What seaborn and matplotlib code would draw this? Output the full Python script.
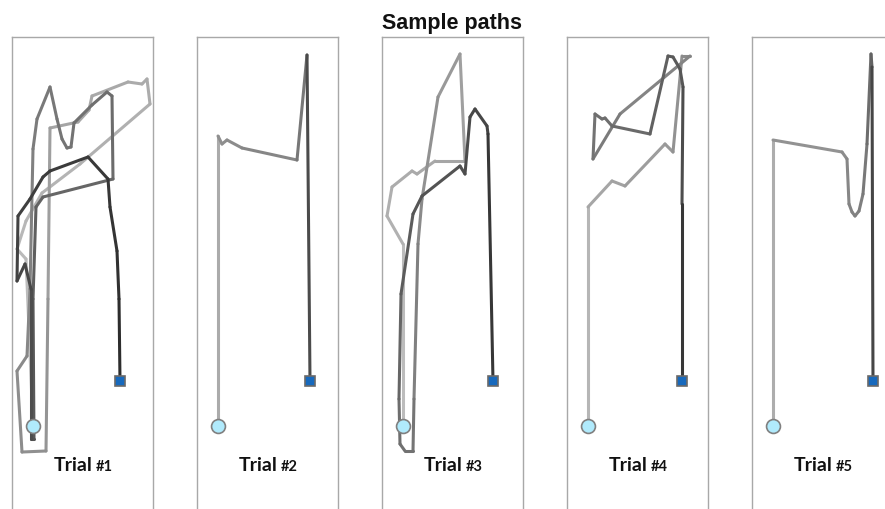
import numpy as np
import matplotlib
matplotlib.use("Agg")
import matplotlib.pyplot as plt
from matplotlib.collections import LineCollection
import seaborn as sns

# path samples per trial, arena units (x right, y down from top of panel)
trial_names = ["#1", "#2", "#3", "#4", "#5"]

x1 = [21, 17, 14, 5, 14, 30, 68, 138, 135, 130, 116, 80, 77, 66, 38, 36, 34, 10, 5, 15,
      18, 21, 25, 38, 45, 50, 55, 59, 62, 80, 95, 100, 101, 31, 24, 21, 22, 19, 19, 13,
      5, 6, 18, 31, 38, 76, 96, 98, 105, 107, 108]
y1 = [389, 292, 222, 212, 184, 156, 127, 67, 42, 47, 45, 59, 73, 85, 91, 262, 414, 415, 334, 319,
      252, 112, 82, 50, 82, 102, 111, 110, 86, 68, 55, 59, 142, 160, 170, 262, 402, 402, 252, 227,
      244, 179, 162, 140, 134, 120, 142, 170, 214, 262, 344]

x2 = [21, 21, 25, 30, 45, 100, 110, 113]
y2 = [389, 99, 107, 103, 111, 123, 18, 344]

x3 = [21, 21, 5, 10, 30, 35, 53, 83, 78, 56, 40, 36, 32, 31, 23, 18, 17, 19, 31, 40,
      78, 83, 88, 93, 105, 106, 111]
y3 = [389, 207, 179, 150, 134, 137, 124, 124, 17, 60, 162, 207, 362, 414, 414, 407, 362, 257, 177, 159,
      129, 137, 80, 72, 89, 97, 344]

x4 = [21, 21, 45, 58, 98, 106, 115, 123, 53, 26, 28, 35, 38, 45, 83, 101, 106, 113, 116, 115, 115]
y4 = [389, 170, 144, 149, 107, 115, 19, 19, 77, 122, 77, 82, 81, 89, 97, 19, 20, 32, 50, 167, 344]

x5 = [21, 21, 90, 95, 97, 100, 103, 107, 111, 115, 119, 120, 121]
y5 = [389, 103, 115, 122, 167, 175, 179, 174, 157, 107, 17, 30, 344]

paths_x = [x1, x2, x3, x4, x5]
paths_y = [y1, y2, y3, y4, y5]

sns.set_theme(style="white")
plt.rcParams['font.family'] = ['Liberation Sans', 'DejaVu Sans']

cmap = sns.blend_palette(["#c4c4c4", "#7c7c7c", "#2a2a2a"], as_cmap=True)
START_FILL = "#b0eafc"
END_FILL = "#1769bd"
FRAME = "#a8a8a8"

W, H = 885, 510
fig = plt.figure(figsize=(W / 100, H / 100), dpi=100)
panel_left = [12, 197, 382, 567, 752]
pw, top, bot = 141, 38, 525

for i, (px, py) in enumerate(zip(paths_x, paths_y)):
    ax = fig.add_axes([panel_left[i] / W, (H - bot) / H, pw / W, (bot - top) / H])
    px = np.array(px, float)
    py = np.array(py, float)
    pts = np.column_stack([px, py]).reshape(-1, 1, 2)
    segs = np.concatenate([pts[:-1], pts[1:]], axis=1)
    seglen = np.hypot(np.diff(px), np.diff(py))
    cum = np.concatenate([[0], np.cumsum(seglen)])
    mid = (cum[:-1] + cum[1:]) / 2 / cum[-1]
    lc = LineCollection(segs, cmap=cmap, linewidths=2.2,
                        capstyle="round", joinstyle="round", zorder=2)
    lc.set_array(mid)
    lc.set_clim(0, 1)
    ax.add_collection(lc)

    ax.plot(px[0], py[0], "o", ms=10, mfc=START_FILL, mec="#808080", mew=1.2, zorder=4)
    ax.plot(px[-1], py[-1], "s", ms=7, mfc=END_FILL, mec="#6a6a6a", mew=1.2, zorder=4)

    ax.set_xlim(0, pw)
    ax.set_ylim(bot - top, 0)
    ax.set_xticks([])
    ax.set_yticks([])
    for s in ax.spines.values():
        s.set_color(FRAME)
        s.set_linewidth(1.0)
    ax.spines["bottom"].set_visible(False)

    ax.text(81, 433, "Trial", ha="right", va="baseline", fontsize=14,
            fontweight="bold", color="#111111", family=["Lato", "DejaVu Sans"])
    ax.text(84, 433, trial_names[i], ha="left", va="baseline", fontsize=10.5,
            fontweight="bold", color="#111111", family=["Lato", "DejaVu Sans"])

fig.text(452 / W, 1 - 23 / H, "Sample paths", ha="center", va="center",
         fontsize=15.5, fontweight="bold", color="#111111")

fig.savefig("out.png", dpi=100)
